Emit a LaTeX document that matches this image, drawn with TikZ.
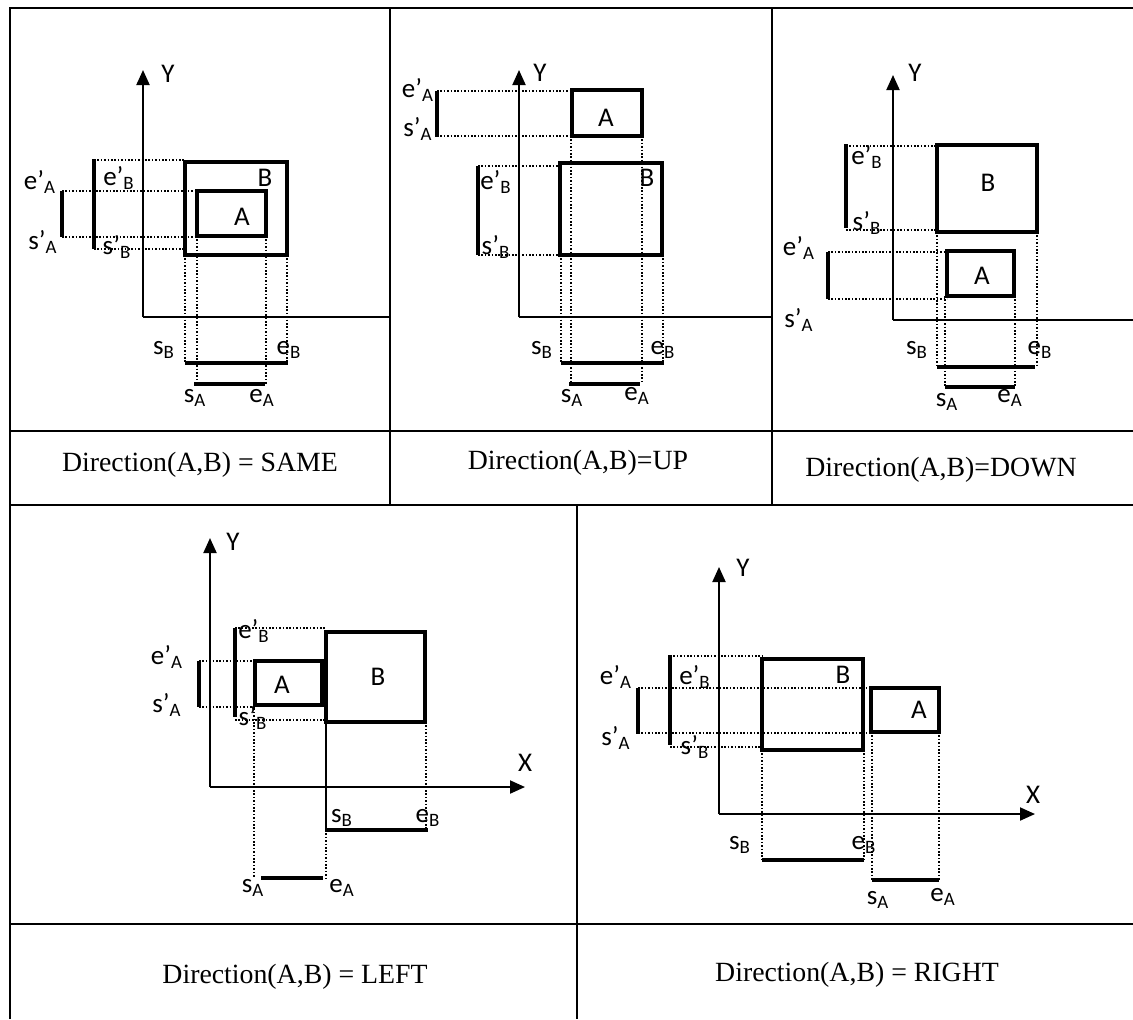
\documentclass[tikz,border=0pt]{standalone}
\usepackage{fontspec}
\setmainfont{Liberation Serif}
\setsansfont{Carlito}
\usetikzlibrary{positioning,arrows.meta}

\begin{document}
\begin{tikzpicture}[
        x=0.5pt, y=-0.5pt,
        every node/.style={font=\sffamily\fontsize{13.5}{15}\selectfont, inner sep=0pt},
        caption/.style={font=\rmfamily\fontsize{13.9}{16}\selectfont},
        tableline/.style={line width=1pt},
        box/.style={line width=2.1pt},
        bar/.style={line width=2.3pt},
        proj/.style={line width=0.9pt, dash pattern=on 0.8pt off 0.9pt},
        axisline/.style={line width=1pt},
        arrowaxis/.style={axisline, -{Triangle[length=7.5pt,width=6.5pt]}}
    ]
    \useasboundingbox (0,0) rectangle (1133,1019);

    \draw[tableline] (10,1019) -- (10,8) -- (1133,8);
    \draw[tableline] (10,431) -- (1133,431);
    \draw[tableline] (10,505) -- (1133,505);
    \draw[tableline] (10,924) -- (1133,924);
    \draw[tableline] (390,8) -- (390,505);
    \draw[tableline] (772,8) -- (772,505);
    \draw[tableline] (577,505) -- (577,1019);

    \node[caption] (capsame) at (200,465) {Direction(A,B) = SAME};
    \node[caption] (capup) at (578,463) {Direction(A,B)=UP};
    \node[caption] (capdown) at (941,470) {Direction(A,B)=DOWN};
    \node[caption] (capleft) at (295,977) {Direction(A,B) = LEFT};
    \node[caption] (capright) at (857,975) {Direction(A,B) = RIGHT};

    % SAME
    \coordinate (same-o) at (143,317);
    \draw[arrowaxis] (same-o) -- (143,70);
    \draw[axisline] (same-o) -- (389,317);
    \node (same-y) at (168,74) {Y};
    \draw[proj] (94,160) -- (185,160);
    \draw[proj] (62,191) -- (197,191);
    \draw[proj] (62,237) -- (197,237);
    \draw[proj] (94,249) -- (185,249);
    \draw[proj] (185,255) -- (185,363);
    \draw[proj] (287,255) -- (287,363);
    \draw[proj] (197,236) -- (197,384);
    \draw[proj] (266,236) -- (266,384);
    \draw[box] (185,162) rectangle (287,255);
    \draw[box] (197,191) rectangle (266,236);
    \draw[bar] (94,159) -- (94,249);
    \draw[bar] (62,191) -- (62,237);
    \draw[bar] (185,363) -- (288,363);
    \draw[bar] (194,384) -- (265,384);
    \node (same-b) at (265,178) {B};
    \node (same-a) at (242,217) {A};
    \node (same-eA') at (40,182) {e’\textsubscript{A}};
    \node (same-sA') at (43,242) {s’\textsubscript{A}};
    \node (same-eB') at (119,178) {e’\textsubscript{B}};
    \node (same-sB') at (117,247) {s’\textsubscript{B}};
    \node (same-sB) at (164,350) {s\textsubscript{B}};
    \node (same-eB) at (289,350) {e\textsubscript{B}};
    \node (same-sA) at (195,398) {s\textsubscript{A}};
    \node (same-eA) at (262,398) {e\textsubscript{A}};

    % UP
    \coordinate (up-o) at (519,317);
    \draw[arrowaxis] (up-o) -- (519,70);
    \draw[axisline] (up-o) -- (771,317);
    \node (up-y) at (540,73) {Y};
    \draw[proj] (437,91) -- (572,91);
    \draw[proj] (437,136) -- (572,136);
    \draw[proj] (478,166) -- (560,166);
    \draw[proj] (478,255) -- (560,255);
    \draw[proj] (571,136) -- (571,384);
    \draw[proj] (642,136) -- (642,384);
    \draw[proj] (561,255) -- (561,363);
    \draw[proj] (663,255) -- (663,363);
    \draw[box] (572,90) rectangle (642,136);
    \draw[box] (560,163) rectangle (662,255);
    \draw[bar] (437,91) -- (437,137);
    \draw[bar] (478,166) -- (478,255);
    \draw[bar] (561,363) -- (664,363);
    \draw[bar] (569,384) -- (640,384);
    \node (up-a) at (606,118) {A};
    \node (up-b) at (647,178) {B};
    \node (up-eA') at (418,90) {e’\textsubscript{A}};
    \node (up-sA') at (418,129) {s’\textsubscript{A}};
    \node (up-eB') at (496,182) {e’\textsubscript{B}};
    \node (up-sB') at (496,247) {s’\textsubscript{B}};
    \node (up-sB) at (542,350) {s\textsubscript{B}};
    \node (up-eB) at (663,350) {e\textsubscript{B}};
    \node (up-sA) at (572,398) {s\textsubscript{A}};
    \node (up-eA) at (637,396) {e\textsubscript{A}};

    % DOWN
    \coordinate (down-o) at (893,320);
    \draw[arrowaxis] (down-o) -- (893,75);
    \draw[axisline] (down-o) -- (1133,320);
    \node (down-y) at (915,73) {Y};
    \draw[proj] (846,146) -- (937,146);
    \draw[proj] (846,230) -- (937,230);
    \draw[proj] (828,252) -- (947,252);
    \draw[proj] (828,299) -- (947,299);
    \draw[proj] (937,232) -- (937,367);
    \draw[proj] (1037,232) -- (1037,367);
    \draw[proj] (945,296) -- (945,387);
    \draw[proj] (1015,296) -- (1015,387);
    \draw[box] (937,145) rectangle (1037,232);
    \draw[box] (947,251) rectangle (1014,296);
    \draw[bar] (846,144) -- (846,228);
    \draw[bar] (828,252) -- (828,299);
    \draw[bar] (937,367) -- (1035,367);
    \draw[bar] (945,387) -- (1015,387);
    \node (down-b) at (988,183) {B};
    \node (down-a) at (982,276) {A};
    \node (down-eB') at (867,157) {e’\textsubscript{B}};
    \node (down-sB') at (867,223) {s’\textsubscript{B}};
    \node (down-eA') at (799,248) {e’\textsubscript{A}};
    \node (down-sA') at (799,320) {s’\textsubscript{A}};
    \node (down-sB) at (917,350) {s\textsubscript{B}};
    \node (down-eB) at (1040,350) {e\textsubscript{B}};
    \node (down-sA) at (947,402) {s\textsubscript{A}};
    \node (down-eA) at (1010,398) {e\textsubscript{A}};

    % LEFT
    \coordinate (left-o) at (210,787);
    \draw[arrowaxis] (left-o) -- (210,538);
    \draw[arrowaxis] (left-o) -- (525,787);
    \node (left-y) at (233,542) {Y};
    \node (left-x) at (525,763) {X};
    \draw[proj] (235,628) -- (326,628);
    \draw[proj] (199,661) -- (255,661);
    \draw[proj] (199,707) -- (255,707);
    \draw[proj] (235,720) -- (326,720);
    \draw[proj] (254,705) -- (254,878);
    \draw[proj] (426,722) -- (426,830);
    \draw[proj] (326,830) -- (326,878);
    \draw[axisline] (326,722) -- (326,830);
    \draw[box] (255,661) rectangle (322,705);
    \draw[box] (326,632) rectangle (425,722);
    \draw[bar] (199,661) -- (199,707);
    \draw[bar] (235,628) -- (235,717);
    \draw[bar] (326,830) -- (428,830);
    \draw[bar] (261,878) -- (323,878);
    \node (left-a) at (282,685) {A};
    \node (left-b) at (378,677) {B};
    \node (left-eA') at (167,657) {e’\textsubscript{A}};
    \node (left-sA') at (167,705) {s’\textsubscript{A}};
    \node (left-eB') at (254,631) {e’\textsubscript{B}};
    \node (left-sB') at (253,718) {s’\textsubscript{B}};
    \node (left-sB) at (342,818) {s\textsubscript{B}};
    \node (left-eB) at (428,818) {e\textsubscript{B}};
    \node (left-sA) at (253,888) {s\textsubscript{A}};
    \node (left-eA) at (342,888) {e\textsubscript{A}};

    % RIGHT
    \coordinate (right-o) at (719,814);
    \draw[arrowaxis] (right-o) -- (719,567);
    \draw[arrowaxis] (right-o) -- (1035,814);
    \node (right-y) at (743,568) {Y};
    \node (right-x) at (1033,795) {X};
    \draw[proj] (670,656) -- (762,656);
    \draw[proj] (638,688) -- (871,688);
    \draw[proj] (638,733) -- (871,733);
    \draw[proj] (670,747) -- (762,747);
    \draw[proj] (762,750) -- (762,860);
    \draw[proj] (864,750) -- (864,860);
    \draw[proj] (872,732) -- (872,880);
    \draw[proj] (939,732) -- (939,880);
    \draw[box] (762,659) rectangle (863,750);
    \draw[box] (871,688) rectangle (939,732);
    \draw[bar] (638,688) -- (638,734);
    \draw[bar] (670,655) -- (670,745);
    \draw[bar] (762,860) -- (864,860);
    \draw[bar] (872,880) -- (939,880);
    \node (right-b) at (843,675) {B};
    \node (right-a) at (919,710) {A};
    \node (right-eA') at (616,677) {e’\textsubscript{A}};
    \node (right-sA') at (616,738) {s’\textsubscript{A}};
    \node (right-eB') at (695,677) {e’\textsubscript{B}};
    \node (right-sB') at (695,747) {s’\textsubscript{B}};
    \node (right-sB) at (740,845) {s\textsubscript{B}};
    \node (right-eB) at (864,845) {e\textsubscript{B}};
    \node (right-sA) at (878,900) {s\textsubscript{A}};
    \node (right-eA) at (943,897) {e\textsubscript{A}};
\end{tikzpicture}
\end{document}
